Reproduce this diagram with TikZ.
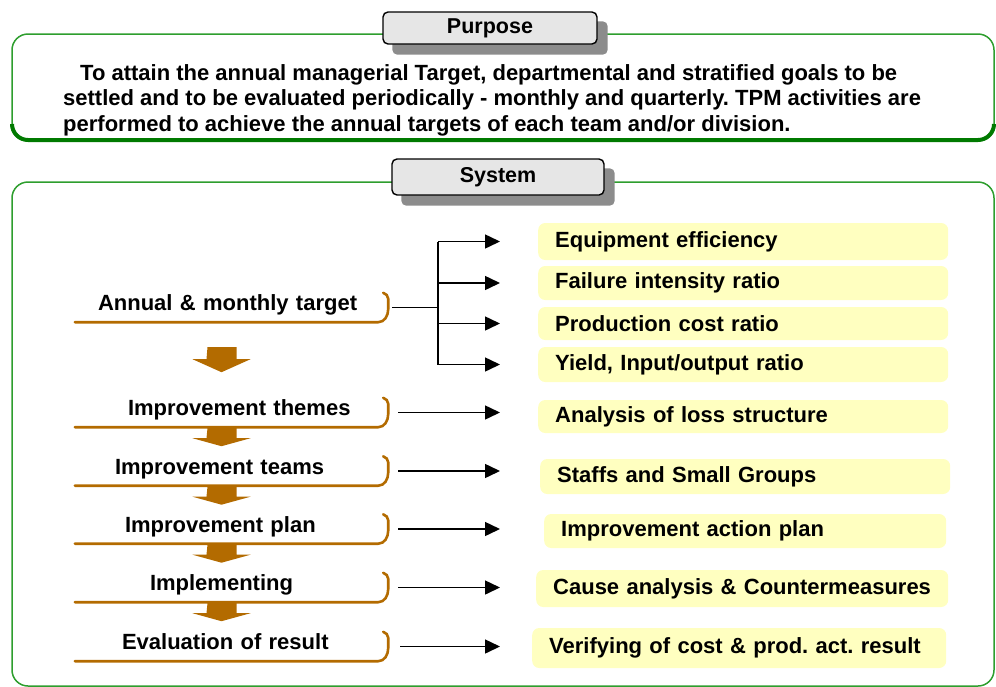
\documentclass[tikz,border=0pt]{standalone}
\usepackage{fontspec}
\setmainfont{Liberation Sans}
\usetikzlibrary{arrows.meta,calc}
\definecolor{gline}{HTML}{2E9E2E}
\definecolor{gdark}{HTML}{007A00}
\definecolor{brn}{HTML}{B36B00}
\definecolor{ylw}{HTML}{FFFFC0}
\definecolor{lblfill}{HTML}{E6E6E6}
\definecolor{shad}{HTML}{8C8C8C}
\pgfdeclarelayer{bg}
\pgfdeclarelayer{sh}
\pgfsetlayers{bg,sh,main}
\frenchspacing
\tikzset{
  frame/.style={draw=gline, line width=1.5pt, rounded corners=16pt},
  framebot/.style={draw=gdark, line width=4pt, rounded corners=16pt},
  lbl/.style={draw=black, line width=1.4pt, fill=lblfill, rounded corners=5pt, inner sep=0pt, font=\bfseries\fontsize{21.5}{24}\selectfont},
  stepitem/.style={inner sep=0pt, text width=313pt, align=left, text height=17.5pt, text depth=11.5pt},
  brk/.style={draw=brn, line width=2.6pt, line cap=round},
  ybox/.style={fill=ylw, rounded corners=7pt, anchor=west, inner xsep=17pt, inner ysep=0pt, text width=376pt, align=left},
  con/.style={draw=black, line width=1.5pt},
  arr/.style={con, -{Triangle[length=15pt,width=14pt]}},
  blk/.style={fill=brn},
}
\begin{document}
\begin{tikzpicture}[x=1pt,y=-1pt, font=\bfseries\fontsize{22}{25.5}\selectfont]
\useasboundingbox (0,0) rectangle (996,686);
\begin{pgfonlayer}{bg}
  \draw[frame] (12,34) rectangle (994,140);
  \draw[framebot] (12,124) -- (12,140) -- (994,140) -- (994,124);
  \draw[frame] (12,182) rectangle (994,686);
\end{pgfonlayer}

% labels
\node[lbl, minimum width=214pt, minimum height=32pt] (P) at (490,28) {Purpose};
\node[lbl, minimum width=212pt, minimum height=36pt] (S) at (498,177) {System};
\begin{pgfonlayer}{sh}
  \fill[shad, rounded corners=5pt] ($(P.north west)+(10,10)$) rectangle ($(P.south east)+(10,10)$);
  \fill[shad, rounded corners=5pt] ($(S.north west)+(10,10)$) rectangle ($(S.south east)+(10,10)$);
\end{pgfonlayer}

% purpose text
\node[anchor=north west, inner sep=0pt, align=left] (PT) at (63,64)
  {\hspace*{17pt}To attain the annual managerial Target, departmental and stratified goals to be\\
   settled and to be evaluated periodically - monthly and quarterly. TPM activities are\\
   performed to achieve the annual targets of each team and/or division.};

% left step items
\node[stepitem] (L1) at (231.5,307.5) {\hspace*{23pt}Annual \& monthly target};
\node[stepitem] (L2) at (231.5,412.5) {\hspace*{53pt}Improvement themes};
\node[stepitem] (L3) at (231.5,471)   {\hspace*{40pt}Improvement teams};
\node[stepitem] (L4) at (231.5,529)   {\hspace*{50pt}Improvement plan};
\node[stepitem] (L5) at (231.5,587.5) {\hspace*{75pt}Implementing};
\node[stepitem] (L6) at (231.5,646.5) {\hspace*{47pt}Evaluation of result};

\foreach \n in {L1,L2,L3,L4,L5,L6} {
  \draw[brk] (\n.south west) -- ([xshift=-10pt]\n.south east)
    to[out=0,in=-90] ([yshift=13pt]\n.south east)
    -- ([yshift=-6pt]\n.north east)
    to[out=90,in=-20] ([xshift=-5pt]\n.north east);
}

% big down arrow
\fill[blk] ($(L1.south)+(-24,25)$) -- ++(29,0) -- ++(0,12) -- ++(14,0)
  -- ++(-29,13) -- ++(-29,-13) -- ++(14,0) -- cycle;
% small down arrows
\foreach \n in {L2,L3,L4,L5} {
  \fill[blk] ($(\n.south)+(-24,1)$) -- ++(29,0) -- ++(0,10) -- ++(14,0)
    -- ++(-29,8) -- ++(-29,-8) -- ++(14,0) -- cycle;
}

% right yellow boxes
\node[ybox, minimum height=37pt] (R1) at (538,241.5) {Equipment efficiency};
\node[ybox, minimum height=34pt] (R2) at (538,283)   {Failure intensity ratio};
\node[ybox, minimum height=33pt] (R3) at (538,323.5) {Production cost ratio};
\node[ybox, minimum height=35pt] (R4) at (538,364.5) {Yield, Input/output ratio};
\node[ybox, minimum height=33pt] (R5) at (538,416.5) {Analysis of loss structure};
\node[ybox, minimum height=35pt] (R6) at (540,476.5) {Staffs and Small Groups};
\node[ybox, minimum height=34pt, text width=368pt] (R7) at (544,531) {Improvement action plan};
\node[ybox, minimum height=37pt, text width=378pt] (R8) at (536,588.5) {\mbox{Cause analysis \& Countermeasures}};
\node[ybox, minimum height=40pt, text width=380pt] (R9) at (532,648) {\mbox{Verifying of cost \& prod. act. result}};

% connectors
\coordinate (fork) at ($(L1.east)+(50,0)$);
\draw[con] ([xshift=4pt]L1.east) -- (fork);
\draw[con] (fork |- R1.west) -- (fork |- R4.west);
\foreach \r in {R1,R2,R3,R4} {
  \draw[arr, shorten >=38pt] (fork |- \r.west) -- (\r.west);
}
\draw[arr, shorten <=10pt, shorten >=38pt] (L2.east) -- (L2.east -| R5.west);
\draw[arr, shorten <=10pt, shorten >=40pt] (L3.east) -- (L3.east -| R6.west);
\draw[arr, shorten <=10pt, shorten >=44pt] (L4.east) -- (L4.east -| R7.west);
\draw[arr, shorten <=10pt, shorten >=36pt] (L5.east) -- (L5.east -| R8.west);
\draw[arr, shorten <=12pt, shorten >=32pt] (L6.east) -- (L6.east -| R9.west);
\end{tikzpicture}
\end{document}
